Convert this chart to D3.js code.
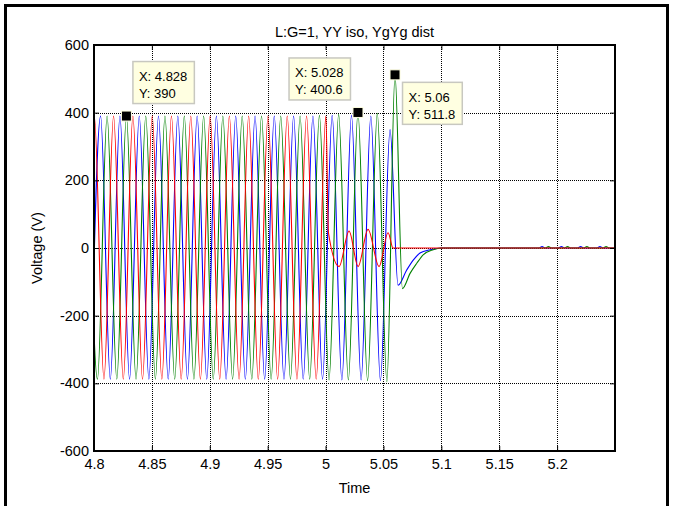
<!DOCTYPE html>
<html><head><meta charset="utf-8">
<script src="https://cdn.jsdelivr.net/npm/d3@7"></script>
<style>body{margin:0;background:#fff}svg{display:block}</style>
</head><body>
<svg id="c" width="673" height="506"></svg>
<script>
// ---- data ----
const xTicks = [4.8, 4.85, 4.9, 4.95, 5, 5.05, 5.1, 5.15, 5.2];
const yTicks = [-600, -400, -200, 0, 200, 400, 600];
const titleText = "L:G=1, YY iso, YgYg dist";
const xLabel = "Time";
const yLabel = "Voltage (V)";

const blueT = [4.7974,4.8057,4.8141,4.8224,4.8307,4.8391,4.8474,4.8557,4.8641,4.8724,4.8807,4.8891,4.8974,4.9057,4.9141,4.9224,4.9307,4.9391,4.9474,4.9557,4.9641,4.9724,4.9807,4.9891,4.9974,5.0057,5.0141,5.0224,5.0307,5.0391,5.0474,5.0557,5.0626,5.0701,5.0759,5.0816,5.0903,5.1000,5.1845,5.1870,5.1895,5.2012,5.2037,5.2062,5.2178,5.2203,5.2228,5.2345,5.2370,5.2395,5.25];
const blueV = [-388,390,-388,390,-388,390,-388,390,-388,390,-388,390,-388,390,-388,390,-388,390,-388,390,-388,390,-388,390,-388,392,-390,392,-390,390,-392,350,-110,-65,-35,-15,-5,0,0,4,0,0,4,0,0,4,0,0,4,0,0];

const greenT = [4.7947,4.8030,4.8113,4.8197,4.8280,4.8363,4.8447,4.8530,4.8613,4.8697,4.8780,4.8863,4.8947,4.9030,4.9113,4.9197,4.9280,4.9363,4.9447,4.9530,4.9613,4.9697,4.9780,4.9863,4.9947,5.0030,5.0113,5.0197,5.0280,5.0363,5.0447,5.0530,5.0600,5.0664,5.0730,5.0788,5.0843,5.0930,5.1000,5.1900,5.1925,5.1950,5.2065,5.2090,5.2115,5.2232,5.2257,5.2282,5.2398,5.2423,5.2448,5.25];
const greenV = [390,-388,390,-388,390,-388,390,-388,390,-388,390,-388,390,-388,390,-388,390,-388,390,-388,390,-388,390,-388,392,-390,395,-390,400.6,-392,398,-395,511.8,-120,-75,-45,-20,-5,0,0,4,0,0,4,0,0,4,0,0,4,0,0];

const redT = [4.7919,4.8003,4.8086,4.8169,4.8253,4.8336,4.8419,4.8503,4.8586,4.8669,4.8753,4.8836,4.8919,4.9003,4.9086,4.9169,4.9253,4.9336,4.9419,4.9503,4.9586,4.9669,4.9753,4.9836,4.9919,5.0003,5.0025,5.0117,5.0203,5.0281,5.0367,5.0462,5.0540,5.0583,5.25];
const redV = [-388,390,-388,390,-388,390,-388,390,-388,390,-388,390,-388,390,-388,390,-388,390,-388,390,-388,390,-388,390,-388,390,45,-55,50,-55,55,-55,45,0,0];

const tipX = [4.828, 5.028, 5.06];
const tipY = [390, 400.6, 511.8];
const tipTextX = ["X: 4.828", "X: 5.028", "X: 5.06"];
const tipTextY = ["Y: 390", "Y: 400.6", "Y: 511.8"];

// ---- drawing ----
const svg = d3.select("#c");
const W = 673, H = 506;
const L = 94, R = 615, T = 45, B = 451;
const FONT = "'Liberation Sans', Arial, Helvetica, sans-serif";
const FS = 14.5;

svg.append("rect").attr("width", W).attr("height", H).attr("fill", "#fff");
// figure frame
svg.append("path").attr("d", `M5.5,${H} V5.5 H667.5 V${H}`).attr("fill", "none").attr("stroke", "#000").attr("stroke-width", 3);

const x = d3.scaleLinear().domain([4.8, 5.25]).range([L, R]);
const y = d3.scaleLinear().domain([-600, 600]).range([B, T]);

// grid
const g = svg.append("g");
g.selectAll(".gx").data(xTicks.slice(1)).join("line")
  .attr("x1", d => Math.round(x(d)) + 0.5).attr("x2", d => Math.round(x(d)) + 0.5).attr("y1", T).attr("y2", B)
  .attr("stroke", "#000").attr("stroke-width", 1).attr("stroke-dasharray", "1,1");
g.selectAll(".gy").data(yTicks.slice(1, -1)).join("line")
  .attr("x1", L).attr("x2", R).attr("y1", d => Math.round(y(d)) + 0.5).attr("y2", d => Math.round(y(d)) + 0.5)
  .attr("stroke", "#000").attr("stroke-width", 1).attr("stroke-dasharray", "1,1");

// clip
svg.append("clipPath").attr("id", "clip").append("rect")
  .attr("x", L).attr("y", T).attr("width", R - L).attr("height", B - T);

const line = d3.line().x(d => x(d[0])).y(d => y(d[1])).curve(d3.curveMonotoneX);
const series = [
  {t: blueT, v: blueV, c: "#0000ff"},
  {t: greenT, v: greenV, c: "#008000"},
  {t: redT, v: redV, c: "#ff0000"}
];
const lg = svg.append("g").attr("clip-path", "url(#clip)");
series.forEach(s => {
  lg.append("path").datum(s.t.map((t, i) => [t, s.v[i]]))
    .attr("d", line).attr("fill", "none").attr("stroke", s.c).attr("stroke-width", 1.1);
});

// axes box & ticks
svg.append("rect").attr("x", L).attr("y", T).attr("width", R - L).attr("height", B - T)
  .attr("fill", "none").attr("stroke", "#000").attr("stroke-width", 2);
const axB = svg.append("g").attr("transform", `translate(0,${B})`)
  .call(d3.axisBottom(x).tickValues(xTicks).tickSize(-5).tickPadding(8).tickFormat(d => String(d)));
const axT = svg.append("g").attr("transform", `translate(0,${T})`)
  .call(d3.axisTop(x).tickValues(xTicks).tickSize(-5).tickFormat(""));
const axL = svg.append("g").attr("transform", `translate(${L},0)`)
  .call(d3.axisLeft(y).tickValues(yTicks).tickSize(-5).tickPadding(5).tickFormat(d => String(d)));
const axR = svg.append("g").attr("transform", `translate(${R},0)`)
  .call(d3.axisRight(y).tickValues(yTicks).tickSize(-5).tickFormat(""));
[axB, axT, axL, axR].forEach(a => {
  a.select(".domain").remove();
  a.selectAll("line").attr("stroke", "#000");
  a.selectAll("text").attr("font-family", FONT).attr("font-size", FS).attr("fill", "#000");
});

// titles
svg.append("text").attr("x", (L + R) / 2).attr("y", 37).attr("text-anchor", "middle")
  .attr("font-family", FONT).attr("font-size", FS).text(titleText);
svg.append("text").attr("x", (L + R) / 2).attr("y", 493).attr("text-anchor", "middle")
  .attr("font-family", FONT).attr("font-size", FS).text(xLabel);
svg.append("text").attr("transform", `translate(42,${(T + B) / 2}) rotate(-90)`).attr("text-anchor", "middle")
  .attr("font-family", FONT).attr("font-size", FS).text(yLabel);

// data tips
const placements = [
  {dx: 6, dy: -13, ax: "left", ay: "bottom"},
  {dx: -8, dy: -13, ax: "right", ay: "bottom"},
  {dx: 7, dy: 7, ax: "left", ay: "top"}
];
tipX.forEach((tx, i) => {
  const mx = x(tx), my = y(tipY[i]);
  const p = placements[i];
  const tg = svg.append("g");
  const t1 = tg.append("text").attr("font-family", FONT).attr("font-size", 13).text(tipTextX[i]);
  const t2 = tg.append("text").attr("font-family", FONT).attr("font-size", 13).text(tipTextY[i]);
  const w = Math.max(t1.node().getComputedTextLength(), t2.node().getComputedTextLength()) + 13;
  const h = 42;
  const bx = p.ax === "left" ? mx + p.dx : mx + p.dx - w;
  const by = p.ay === "top" ? my + p.dy : my + p.dy - h;
  tg.insert("rect", "text").attr("x", bx + 0.5).attr("y", by + 0.5).attr("width", w).attr("height", h)
    .attr("fill", "#ffffe1").attr("stroke", "#c8c8c0").attr("stroke-width", 1.5);
  t1.attr("x", bx + 6.5).attr("y", by + 20);
  t2.attr("x", bx + 6.5).attr("y", by + 37);
  svg.append("rect").attr("x", mx - 5).attr("y", my - 5).attr("width", 10).attr("height", 10)
    .attr("fill", "#000").attr("stroke", "#ffffe1").attr("stroke-width", 1);
});
</script>
</body></html>
